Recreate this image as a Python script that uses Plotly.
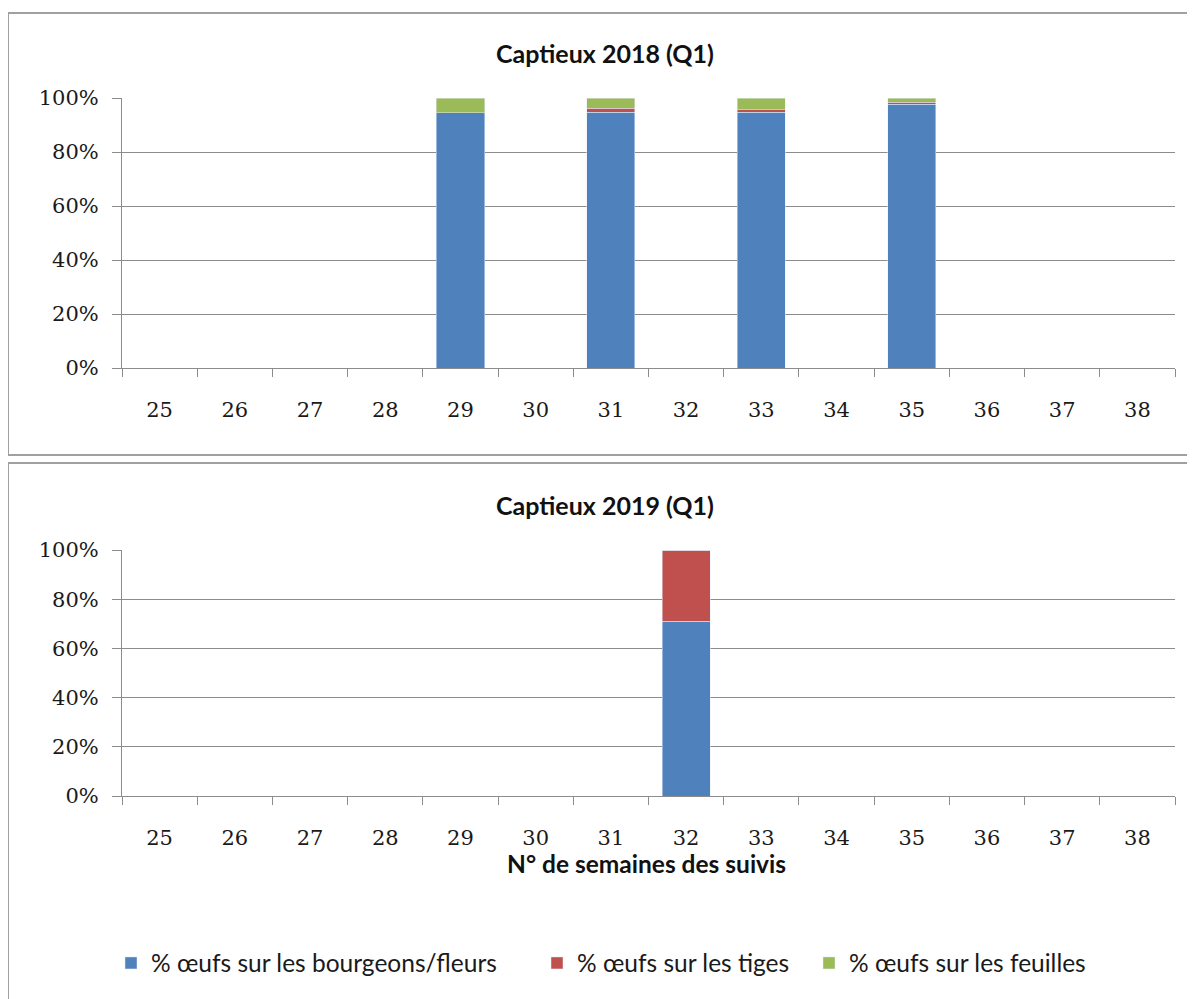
import plotly.graph_objects as go

# Data
weeks = [25, 26, 27, 28, 29, 30, 31, 32, 33, 34, 35, 36, 37, 38]
series_names = ["% œufs sur les bourgeons/fleurs", "% œufs sur les tiges", "% œufs sur les feuilles"]
colors = ["#4F81BD", "#C0504D", "#9BBB59"]

bourgeons_2018 = [None, None, None, None, 94.5, None, 94.7, None, 94.7, None, 97.7, None, None, None]
tiges_2018 = [None, None, None, None, 0, None, 1.5, None, 1.0, None, 0.8, None, None, None]
feuilles_2018 = [None, None, None, None, 5.5, None, 3.8, None, 4.3, None, 1.5, None, None, None]

bourgeons_2019 = [None, None, None, None, None, None, None, 71, None, None, None, None, None, None]
tiges_2019 = [None, None, None, None, None, None, None, 29, None, None, None, None, None, None]
feuilles_2019 = [None, None, None, None, None, None, None, 0, None, None, None, None, None, None]

W, H = 1195, 999
OFF = 8  # page body margin in the browser

def px_x(p):
    return (p - OFF) / W

def px_y(p):
    return 1 - (p - OFF) / H

fig = go.Figure()
legend_ids = ["legend", "legend2", "legend3"]
for i, vals in enumerate([bourgeons_2018, tiges_2018, feuilles_2018]):
    fig.add_trace(go.Bar(x=weeks, y=vals, name=series_names[i], marker_color=colors[i],
                         xaxis="x", yaxis="y", legendgroup=str(i), showlegend=True,
                         legend=legend_ids[i]))
for i, vals in enumerate([bourgeons_2019, tiges_2019, feuilles_2019]):
    fig.add_trace(go.Bar(x=weeks, y=vals, name=series_names[i], marker_color=colors[i],
                         xaxis="x2", yaxis="y2", legendgroup=str(i), showlegend=False,
                         legend=legend_ids[i]))

tick_font = dict(family="DejaVu Serif", size=21, color="#1a1a1a")
xcommon = dict(range=[24.5, 38.5], tickvals=weeks, ticktext=[str(w) for w in weeks],
               ticks="", showgrid=False, zeroline=False, showline=True, linecolor="#8C8C8C",
               linewidth=1, tickfont=tick_font, ticklabelstandoff=23, automargin=False,
               minor=dict(ticks="outside", tick0=24.5, dtick=1, ticklen=8, tickcolor="#8C8C8C",
                          showgrid=False))
ycommon = dict(range=[0, 100], tickvals=[0, 20, 40, 60, 80, 100],
               ticktext=["0%", "20%", "40%", "60%", "80%", "100%"],
               ticks="outside", ticklen=9, tickcolor="#8C8C8C", showgrid=True,
               gridcolor="#8C8C8C", gridwidth=1, zeroline=False, showline=True,
               linecolor="#8C8C8C", linewidth=1, tickfont=tick_font,
               ticklabelstandoff=9, automargin=False)

legend_font = dict(family="Lato", size=24.5, color="#1a1a1a")
legend_x = [125, 551, 823]

def legend_at(xp):
    return dict(orientation="h", x=px_x(xp - 14), xanchor="left", y=px_y(963),
                yanchor="middle", font=legend_font, itemwidth=30,
                bgcolor="rgba(0,0,0,0)")

fig.update_layout(
    width=W, height=H,
    margin=dict(l=0, r=0, t=0, b=0),
    paper_bgcolor="white", plot_bgcolor="white",
    barmode="stack", bargap=0.36,
    xaxis=dict(domain=[px_x(122), px_x(1175)], anchor="y", **xcommon),
    yaxis=dict(domain=[px_y(368), px_y(98)], anchor="x", **ycommon),
    xaxis2=dict(domain=[px_x(122), px_x(1175)], anchor="y2", **xcommon),
    yaxis2=dict(domain=[px_y(796), px_y(550)], anchor="x2", **ycommon),
    legend=legend_at(legend_x[0]),
    legend2=legend_at(legend_x[1]),
    legend3=legend_at(legend_x[2]),
    font=dict(family="Lato"),
)

# Panel borders
fig.add_shape(type="rect", xref="paper", yref="paper", x0=px_x(8), x1=px_x(1192),
              y0=px_y(455), y1=px_y(13), line=dict(color="#A0A0A0", width=2))
fig.add_shape(type="rect", xref="paper", yref="paper", x0=px_x(8), x1=px_x(1192),
              y0=px_y(1030), y1=px_y(463), line=dict(color="#A0A0A0", width=2))

title_font = dict(family="Lato", size=25, color="#111111")
fig.add_annotation(text="<b>Captieux 2018 (Q1)</b>", xref="paper", yref="paper",
                   x=px_x(605), y=px_y(53), xanchor="center", yanchor="middle",
                   showarrow=False, font=title_font)
fig.add_annotation(text="<b>Captieux 2019 (Q1)</b>", xref="paper", yref="paper",
                   x=px_x(605), y=px_y(505), xanchor="center", yanchor="middle",
                   showarrow=False, font=title_font)
fig.add_annotation(text="<b>N° de semaines des suivis</b>", xref="paper", yref="paper",
                   x=px_x(646), y=px_y(863), xanchor="center", yanchor="middle",
                   showarrow=False, font=dict(family="Lato", size=24.5, color="#111111"))

fig.write_html("out.html")
